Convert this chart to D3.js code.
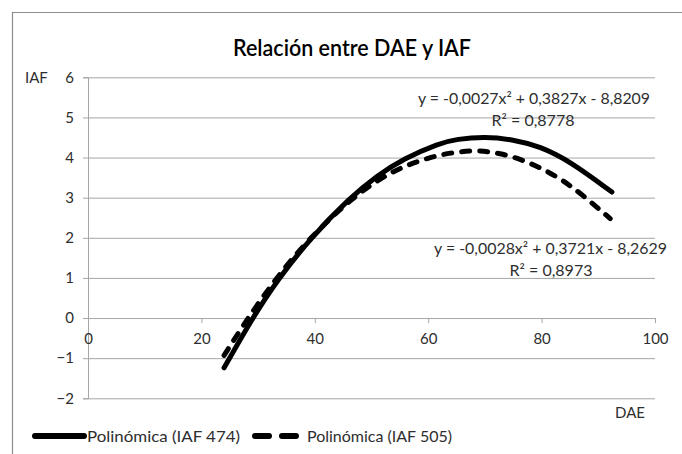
<!DOCTYPE html>
<html>
<head>
<meta charset="utf-8">
<script src="https://cdn.jsdelivr.net/npm/d3@7"></script>
<style>
  html, body { margin: 0; padding: 0; background: #fff; }
  svg { display: block; }
  text { font-family: Lato, "Open Sans", sans-serif; }
</style>
</head>
<body>
<svg id="chart" width="682" height="454"></svg>
<script>
// Trendline for IAF 474 (DAE on x, IAF on y)
const dae474 = [24, 29, 33.4, 39.3, 46.2, 51, 55.6, 62, 65, 70, 75, 79.7, 85, 92.4];
const iaf474 = [-1.24, 0, 0.95, 2.0, 3.0, 3.55, 3.97, 4.36, 4.46, 4.52, 4.45, 4.28, 3.91, 3.14];

// Trendline for IAF 505
const dae505 = [24, 28.2, 33.2, 39.1, 46.6, 52, 56, 60, 63.8, 68.5, 72.7, 76.7, 80.3, 83.8, 87.3, 92.1];
const iaf505 = [-0.93, 0, 1, 2, 3, 3.52, 3.8, 3.99, 4.12, 4.19, 4.11, 3.94, 3.71, 3.43, 3.06, 2.48];

const xTicks = [0, 20, 40, 60, 80, 100];
const yTicks = [-2, -1, 0, 1, 2, 3, 4, 5, 6];

const seriesNames = ["Polinómica (IAF 474)", "Polinómica (IAF 505)"];
const equations = ["y = -0,0027x² + 0,3827x - 8,8209", "y = -0,0028x² + 0,3721x - 8,2629"];
const rSquared = ["R² = 0,8778", "R² = 0,8973"];

const svg = d3.select("#chart");
const gridColor = "#a6a6a6";
const textColor = "#2e2e2e";
const fontStack = "Lato, 'Open Sans', sans-serif";

const x = d3.scaleLinear().domain([0, 100]).range([88, 655]);
const y = d3.scaleLinear().domain([-2, 6]).range([398.3, 77.3]);

// chart frame
svg.append("path")
  .attr("d", "M12.5,454 L12.5,12.5 L682,12.5")
  .attr("fill", "none").attr("stroke", "#8c8c8c").attr("stroke-width", 1.2);

// title
svg.append("text")
  .attr("x", 352).attr("y", 56)
  .attr("text-anchor", "middle")
  .attr("font-size", 23)
  .attr("font-weight", 600)
  .attr("fill", "#000")
  .attr("textLength", 238).attr("lengthAdjust", "spacingAndGlyphs")
  .text("Relación entre DAE y IAF");

// y axis with left ticks
const yAxis = d3.axisLeft(y).tickValues(yTicks).tickSize(5).tickPadding(9)
  .tickFormat(d3.format("d"));
const gy = svg.append("g").attr("transform", `translate(${x(0)},0)`).call(yAxis);
gy.select(".domain").attr("stroke", gridColor);
gy.selectAll(".tick line").attr("stroke", gridColor);
gy.selectAll(".tick text").attr("font-size", 15).attr("fill", textColor)
  .attr("font-family", fontStack);

// horizontal gridlines
svg.append("g").selectAll("line").data(yTicks.filter(d => d !== 0)).join("line")
  .attr("x1", x(0)).attr("x2", x(100))
  .attr("y1", d => y(d) + 0.5).attr("y2", d => y(d) + 0.5)
  .attr("stroke", gridColor).attr("stroke-width", 1);

// x axis along IAF = 0
const xAxis = d3.axisBottom(x).tickValues(xTicks).tickSize(5).tickPadding(10)
  .tickFormat(d3.format("d"));
const gx = svg.append("g").attr("transform", `translate(0,${y(0)})`).call(xAxis);
gx.select(".domain").attr("stroke", gridColor);
gx.selectAll(".tick line").attr("stroke", gridColor);
gx.selectAll(".tick text").attr("font-size", 15).attr("fill", textColor)
  .attr("font-family", fontStack);

// axis titles
svg.append("text").attr("x", 25).attr("y", 83).attr("font-size", 15)
  .attr("fill", textColor).text("IAF");
svg.append("text").attr("x", 645).attr("y", 418).attr("font-size", 15)
  .attr("text-anchor", "end").attr("fill", textColor).text("DAE");

// trendlines
const line = d3.line().x(d => x(d[0])).y(d => y(d[1])).curve(d3.curveBasis);

svg.append("path")
  .datum(d3.zip(dae474, iaf474))
  .attr("d", line)
  .attr("fill", "none").attr("stroke", "#000").attr("stroke-width", 5)
  .attr("stroke-linecap", "round");

svg.append("path")
  .datum(d3.zip(dae505, iaf505))
  .attr("d", line)
  .attr("fill", "none").attr("stroke", "#000").attr("stroke-width", 5)
  .attr("stroke-linecap", "round").attr("stroke-dasharray", "8,10");

// equation labels
const eqFont = 15;
svg.append("text").attr("x", 650).attr("y", 104).attr("text-anchor", "end")
  .attr("font-size", eqFont).attr("fill", textColor)
  .attr("textLength", 232).attr("lengthAdjust", "spacingAndGlyphs").text(equations[0]);
svg.append("text").attr("x", 533).attr("y", 126).attr("text-anchor", "middle")
  .attr("font-size", eqFont).attr("fill", textColor)
  .attr("textLength", 83).attr("lengthAdjust", "spacingAndGlyphs").text(rSquared[0]);
svg.append("text").attr("x", 667).attr("y", 254).attr("text-anchor", "end")
  .attr("font-size", eqFont).attr("fill", textColor)
  .attr("textLength", 233).attr("lengthAdjust", "spacingAndGlyphs").text(equations[1]);
svg.append("text").attr("x", 551).attr("y", 276).attr("text-anchor", "middle")
  .attr("font-size", eqFont).attr("fill", textColor)
  .attr("textLength", 83).attr("lengthAdjust", "spacingAndGlyphs").text(rSquared[1]);

// legend
const lg = svg.append("g");
lg.append("line").attr("x1", 35).attr("x2", 84).attr("y1", 436).attr("y2", 436)
  .attr("stroke", "#000").attr("stroke-width", 6).attr("stroke-linecap", "round");
lg.append("text").attr("x", 87).attr("y", 442).attr("font-size", 16).attr("fill", textColor)
  .attr("textLength", 153).attr("lengthAdjust", "spacingAndGlyphs").text(seriesNames[0]);
lg.append("line").attr("x1", 255).attr("x2", 298).attr("y1", 436).attr("y2", 436)
  .attr("stroke", "#000").attr("stroke-width", 6).attr("stroke-linecap", "round")
  .attr("stroke-dasharray", "14,13");
lg.append("text").attr("x", 307).attr("y", 442).attr("font-size", 16).attr("fill", textColor)
  .attr("textLength", 145).attr("lengthAdjust", "spacingAndGlyphs").text(seriesNames[1]);
</script>
</body>
</html>
